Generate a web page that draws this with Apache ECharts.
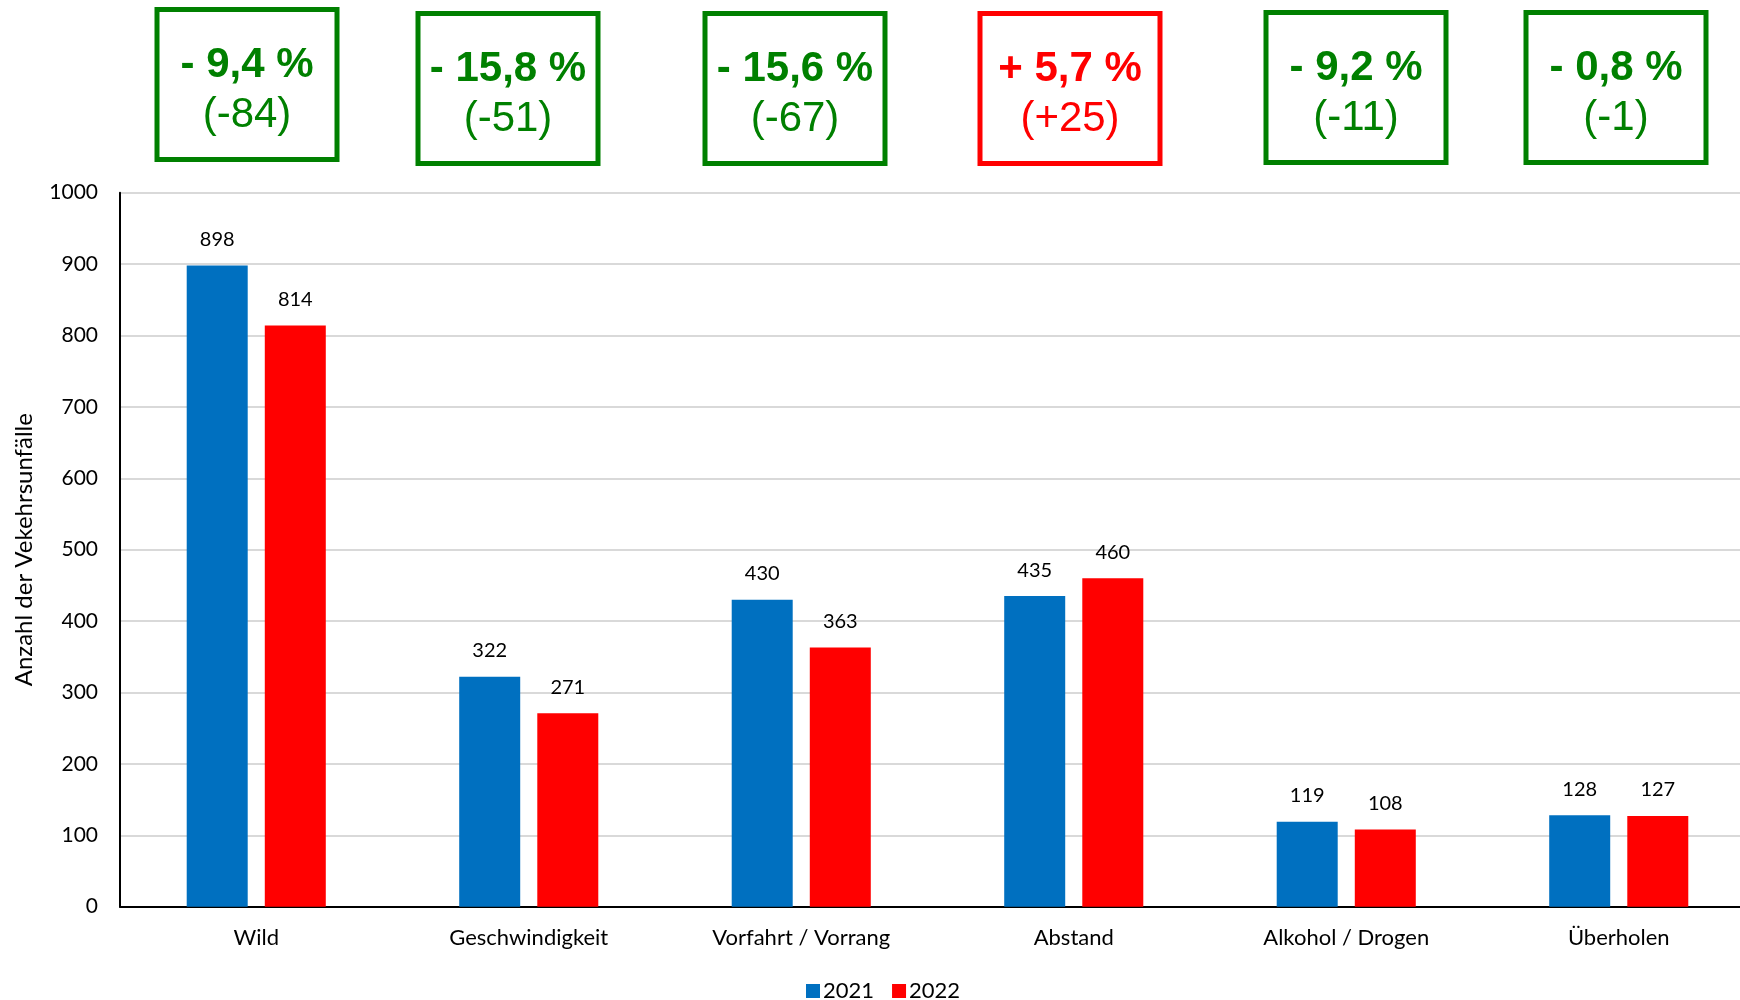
<!DOCTYPE html>
<html>
<head>
<meta charset="utf-8">
<script src="https://cdn.jsdelivr.net/npm/echarts@6/dist/echarts.min.js"></script>
<style>
  html, body { margin: 0; padding: 0; background: #ffffff; }
  #chart { width: 1740px; height: 1000px; }
</style>
</head>
<body>
<div id="chart"></div>
<script>
// Unfallursachen, Vergleich 2021 / 2022
const categories = ['Wild', 'Geschwindigkeit', 'Vorfahrt / Vorrang', 'Abstand', 'Alkohol / Drogen', 'Überholen'];
const values2021 = [898, 322, 430, 435, 119, 128];
const values2022 = [814, 271, 363, 460, 108, 127];
const seriesNames = ['2021', '2022'];
const yTicks = { min: 0, max: 1000, interval: 100 };

// Placement of the change boxes above the plot (centre x, top y)
const boxCenters = [247, 508, 795, 1070, 1356, 1616];
const boxTops = [7, 11, 11, 11, 10, 10];

const BLUE = '#0070C0';
const RED = '#FF0000';
const GREEN = '#008000';
const FONT = 'Lato, "Noto Sans", sans-serif';
const BOX_FONT = '"Liberation Sans", Arial, sans-serif';

function fmtPercent(a, b) {
  const p = (b - a) / a * 100;
  const sign = p < 0 ? '- ' : '+ ';
  return sign + Math.abs(p).toFixed(1).replace('.', ',') + ' %';
}
function fmtDiff(a, b) {
  const d = b - a;
  return '(' + (d > 0 ? '+' : '') + d + ')';
}

const boxes = categories.map((c, i) => {
  const a = values2021[i], b = values2022[i];
  const col = b > a ? RED : GREEN;
  const cx = boxCenters[i], top = boxTops[i];
  return {
    type: 'group',
    children: [
      {
        type: 'rect',
        shape: { x: cx - 90, y: top + 2.5, width: 180, height: 150 },
        style: { fill: '#ffffff', stroke: col, lineWidth: 5 }
      },
      {
        type: 'text',
        x: cx, y: top + 58,
        style: {
          text: fmtPercent(a, b), fill: col, font: 'bold 42px ' + BOX_FONT,
          textAlign: 'center', textVerticalAlign: 'middle'
        }
      },
      {
        type: 'text',
        x: cx, y: top + 108,
        style: {
          text: fmtDiff(a, b), fill: col, font: '42px ' + BOX_FONT,
          textAlign: 'center', textVerticalAlign: 'middle'
        }
      }
    ]
  };
});

const chart = echarts.init(document.getElementById('chart'));
chart.setOption({
  animation: false,
  backgroundColor: '#ffffff',
  textStyle: { fontFamily: FONT },
  // plot area runs slightly past the right edge of the canvas
  grid: {
    left: 120, width: 1635, top: 192.7, bottom: 93.3,
    containLabel: false, outerBoundsMode: 'none'
  },
  legend: {
    data: seriesNames,
    left: 806, top: 980, padding: 0,
    itemWidth: 14, itemHeight: 14, itemGap: 18,
    icon: 'rect',
    textStyle: { fontSize: 22, color: '#000', fontFamily: FONT, padding: [0, 0, 0, -2] }
  },
  xAxis: {
    type: 'category',
    data: categories,
    axisLine: { lineStyle: { color: '#000', width: 2 } },
    axisTick: { show: false },
    axisLabel: { fontSize: 22, color: '#000', margin: 20, fontFamily: FONT },
    splitLine: { show: false }
  },
  yAxis: {
    type: 'value',
    min: yTicks.min, max: yTicks.max, interval: yTicks.interval,
    name: 'Anzahl der Vekehrsunfälle',
    nameLocation: 'middle',
    nameGap: 84,
    nameTextStyle: { fontSize: 24, color: '#000', fontFamily: FONT },
    axisLine: { show: true, lineStyle: { color: '#000', width: 2 } },
    axisTick: { show: false },
    axisLabel: {
      fontSize: 21, color: '#000', margin: 22, fontFamily: FONT,
      formatter: v => String(v)
    },
    splitLine: { lineStyle: { color: '#d9d9d9', width: 2 } }
  },
  series: [
    {
      name: seriesNames[0], type: 'bar', data: values2021,
      barWidth: 61, barGap: '28%',
      itemStyle: { color: BLUE },
      label: { show: true, position: 'top', distance: 16, fontSize: 20, color: '#000', fontFamily: FONT }
    },
    {
      name: seriesNames[1], type: 'bar', data: values2022,
      barWidth: 61,
      itemStyle: { color: RED },
      label: { show: true, position: 'top', distance: 16, fontSize: 20, color: '#000', fontFamily: FONT }
    }
  ],
  graphic: boxes
});
</script>
</body>
</html>
